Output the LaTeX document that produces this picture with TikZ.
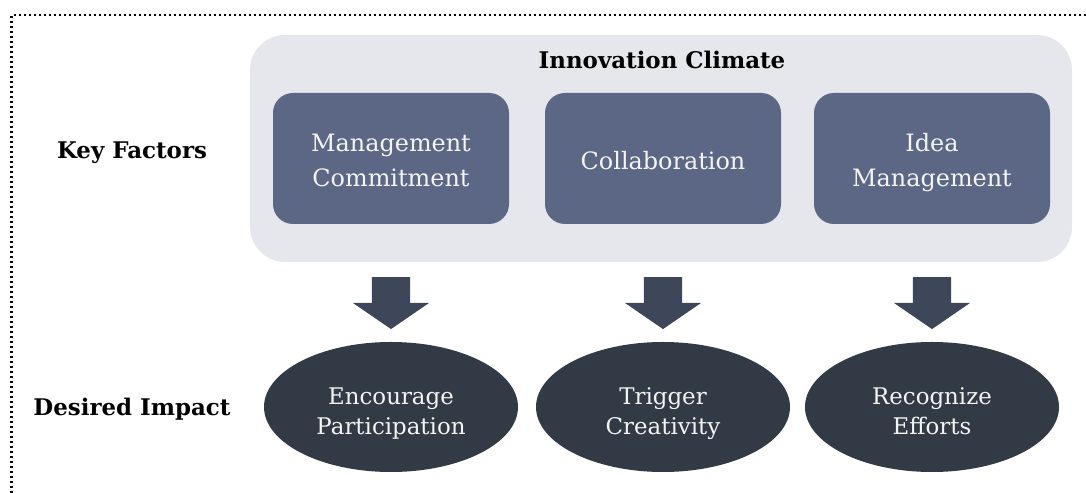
\documentclass[tikz,border=0pt]{standalone}
\usepackage{fontspec}
\setmainfont{DejaVu Serif}
\usetikzlibrary{shapes.geometric, shapes.arrows, positioning, calc}
\definecolor{climatebg}{HTML}{E6E7EC}
\definecolor{factorblue}{HTML}{5B6785}
\definecolor{arrowdark}{HTML}{3E465A}
\definecolor{impactdark}{HTML}{323B45}
\definecolor{softwhite}{HTML}{F4F4F4}
\begin{document}
\begin{tikzpicture}[x=1bp,y=1bp,node distance=272bp,
        climate/.style={rectangle,fill=climatebg,rounded corners=35bp,
        minimum width=822bp,minimum height=227bp,inner sep=0pt},
        factor/.style={rectangle,fill=factorblue,rounded corners=20bp,
        minimum width=236bp,minimum height=131bp,inner sep=0pt,text=softwhite,
        align=center,font=\fontsize{24}{35}\selectfont,text height=23bp,text depth=0bp},
        twofactor/.style={factor,text height=60.4bp,text depth=4bp},
        impact/.style={ellipse,fill=impactdark,minimum width=254bp,
        minimum height=130bp,inner sep=0pt,text=softwhite,align=center,
        font=\fontsize{23}{31}\selectfont,text height=60bp,text depth=4bp},
        blockarrow/.style={single arrow,fill=arrowdark,minimum height=52bp,
        minimum width=76bp,single arrow head extend=19bp,
        single arrow tip angle=111,inner xsep=0pt,inner ysep=19bp,rotate=-90},
        rowlabel/.style={font=\bfseries\fontsize{23}{28}\selectfont}]
        \useasboundingbox (0,0) rectangle (1086,493);
        \draw[line width=2.4bp,dash pattern=on 2.4bp off 2.6bp] (11.5,0) -- (11.5,478) -- (1086,478);
        \node[climate] (climate) at (661,344.5) {};
        \node[font=\bfseries\fontsize{23}{28}\selectfont] (title) at (662,433) {Innovation Climate};
        \node[twofactor] (commitment) at (391,334.5) {Management\\Commitment};
        \node[factor, right of=commitment] (collab) {Collaboration};
        \node[twofactor, right of=collab, node distance=269bp] (ideas) {Idea\\Management};
        \node[rowlabel] (keyfactors) at (132,340) {Key Factors};
        \node[blockarrow] (arrowA) at ($(commitment)+(0,-138)$) {};
        \node[blockarrow] (arrowB) at ($(collab)+(0,-138)$) {};
        \node[blockarrow] (arrowC) at ($(ideas)+(0,-138)$) {};
        \node[impact, below of=commitment, node distance=248.5bp] (participation) {Encourage\\Participation};
        \node[impact, below of=collab, node distance=248.5bp] (creativity) {Trigger\\Creativity};
        \node[impact, below of=ideas, node distance=248.5bp] (efforts) {Recognize\\Efforts};
        \node[rowlabel] (impactlabel) at (132,84) {Desired Impact};
    \end{tikzpicture}
\end{document}
